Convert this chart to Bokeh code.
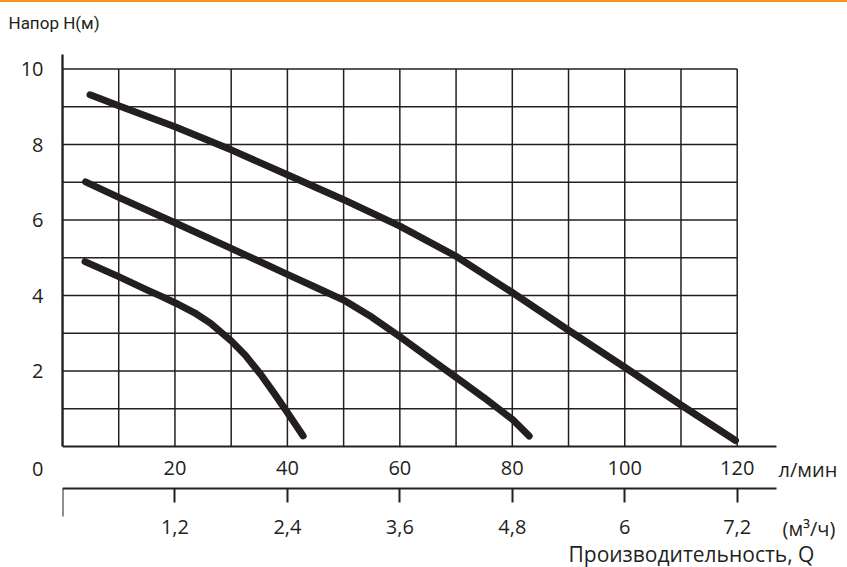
from bokeh.plotting import figure
from bokeh.models import Range1d, LinearAxis, FixedTicker, Label, Grid
from bokeh.embed import file_html
from bokeh.resources import INLINE

# ---- data ----
q_top = [4.9, 10, 20, 30, 40, 50, 60, 70, 80, 90, 100, 110, 119.7]
h_top = [9.32, 9.03, 8.47, 7.86, 7.2, 6.54, 5.84, 5.04, 4.08, 3.08, 2.1, 1.1, 0.16]

q_mid = [4.1, 10, 20, 30, 40, 45, 50, 55, 60, 65, 70, 75, 80, 83.0]
h_mid = [7.01, 6.6, 5.93, 5.25, 4.56, 4.22, 3.88, 3.43, 2.91, 2.37, 1.83, 1.29, 0.72, 0.28]

q_low = [4.0, 10, 15, 17.4, 20, 23.4, 26.3, 30, 32.5, 35.2, 37.6, 40, 42.8]
h_low = [4.9, 4.5, 4.15, 3.99, 3.81, 3.55, 3.27, 2.8, 2.42, 1.92, 1.42, 0.9, 0.28]

x_ticks_lmin = [20, 40, 60, 80, 100, 120]
x_ticks_m3 = [1.2, 2.4, 3.6, 4.8, 6.0, 7.2]
x_labels_m3 = ["1,2", "2,4", "3,6", "4,8", "6", "7,2"]
y_ticks = [2, 4, 6, 8, 10]
grid_q = list(range(0, 121, 10))
grid_h = list(range(1, 11))
LMIN_TO_M3H = 0.06

TITLE = "Напор Н(м)"
ORIGIN_LABEL = "0"
UNIT_LMIN = "л/мин"
UNIT_M3H = "(м³/ч)"
X_TITLE = "Производительность, Q"

INK = "#231f20"
FONT = "'Open Sans', sans-serif"
TITLE_FONT = "Roboto, sans-serif"

# ---- layout (pixels) ----
W, H = 847, 567
LEFT = 62
FRAME_TOP = 40
ZERO_PX = 446                 # pixel row of H = 0
PX_Q = 674.7 / 120.0          # px per l/min
PX_H = 37.74                  # px per metre
x_end = (W - LEFT) / PX_Q
y_start = -(H - ZERO_PX) / PX_H
y_end = (ZERO_PX - FRAME_TOP) / PX_H
q_axis_end = (776 - LEFT) / PX_Q

def q_at(px):                 # l/min value at a horizontal pixel
    return (px - LEFT) / PX_Q

def h_at(py):                 # metre value at a vertical pixel
    return (ZERO_PX - py) / PX_H

p = figure(width=W, height=H, x_range=Range1d(0, x_end), y_range=Range1d(y_start, y_end),
           output_backend="svg", toolbar_location=None,
           x_axis_location=None, y_axis_location=None,
           min_border_left=LEFT, min_border_right=0, min_border_top=FRAME_TOP,
           min_border_bottom=0)
p.outline_line_color = None
p.center = [r for r in p.center if not isinstance(r, Grid)]
p.background_fill_color = "white"
p.border_fill_color = None
p.styles = {"box-shadow": "inset 0 2px 0 #f7941d", "background-color": "white"}

# title (top left)
p.title.text = TITLE
p.title.align = "left"
p.title.offset = 8 - LEFT
p.title.standoff = 15
p.title.vertical_align = "bottom"
p.title.text_font = TITLE_FONT
p.title.text_font_size = "17px"
p.title.text_font_style = "normal"
p.title.text_color = INK

def base_axis(ax, line=False):
    ax.major_label_text_font = FONT
    ax.major_label_text_font_size = "20px"
    ax.major_label_text_color = INK
    ax.axis_line_color = INK if line else None
    ax.major_tick_in = 0
    ax.minor_tick_in = 0
    ax.major_tick_out = 0
    ax.minor_tick_out = 0
    return ax

# y axis: rule
yax_rule = base_axis(LinearAxis(ticker=FixedTicker(ticks=[]), bounds=(0, 10.4)), line=True)
yax_rule.axis_line_width = 2.3
p.add_layout(yax_rule, "left")

# y axis: labels (the origin "0" sits on the l/min label row)
h_origin = h_at(468.5)
yax = base_axis(LinearAxis(ticker=FixedTicker(ticks=[h_origin] + y_ticks),
                           bounds=(h_origin - 0.1, 10.4)))
yax.major_label_standoff = 19
yax.major_label_overrides = {h_origin: ORIGIN_LABEL}
p.add_layout(yax, "left")

# l/min axis: rule
ax_rule1 = base_axis(LinearAxis(ticker=FixedTicker(ticks=[]), bounds=(0, q_axis_end),
                                fixed_location=0), line=True)
ax_rule1.axis_line_width = 2.2
p.add_layout(ax_rule1, "below")

# l/min axis: labels
ax_row1 = base_axis(LinearAxis(ticker=FixedTicker(ticks=x_ticks_lmin),
                               bounds=(0, 121), fixed_location=0))
ax_row1.major_label_standoff = 14
p.add_layout(ax_row1, "below")

# m3/h axis
p.extra_x_ranges = {"m3": Range1d(0, x_end * LMIN_TO_M3H)}
ax_m3 = base_axis(LinearAxis(x_range_name="m3",
                             ticker=FixedTicker(ticks=x_ticks_m3, minor_ticks=[0.0]),
                             bounds=(0, q_axis_end * LMIN_TO_M3H),
                             fixed_location=h_at(488.3)), line=True)
ax_m3.axis_line_width = 2.2
ax_m3.major_tick_out = 14
ax_m3.minor_tick_out = 28
ax_m3.major_tick_line_width = 2
ax_m3.minor_tick_line_width = 2
ax_m3.major_tick_line_color = INK
ax_m3.minor_tick_line_color = INK
ax_m3.major_label_standoff = 3
ax_m3.major_label_overrides = {t: l for t, l in zip(x_ticks_m3, x_labels_m3)}
p.add_layout(ax_m3, "below")

# grid (segments limited to the chart area)
p.segment(x0=grid_q, y0=[0] * len(grid_q), x1=grid_q, y1=[max(grid_h)] * len(grid_q),
          line_color=INK, line_width=1.5)
p.segment(x0=[0] * len(grid_h), y0=grid_h, x1=[max(grid_q)] * len(grid_h), y1=grid_h,
          line_color=INK, line_width=1.5)

# curves
for q, h in ((q_top, h_top), (q_mid, h_mid), (q_low, h_low)):
    p.line(q, h, line_color=INK, line_width=7, line_cap="round", line_join="round")

# unit texts and axis title
def add_label(text, px, py, size="20px"):
    p.add_layout(Label(x=q_at(px), y=h_at(py), text=text, text_align="left",
                       text_baseline="middle", text_font=FONT,
                       text_font_size=size, text_color=INK))

add_label(UNIT_LMIN, 778, 468.5)
add_label(UNIT_M3H, 782, 527.5)
add_label(X_TITLE, 568, 553.5, "21px")

open("out.html", "w").write(file_html(p, INLINE))
